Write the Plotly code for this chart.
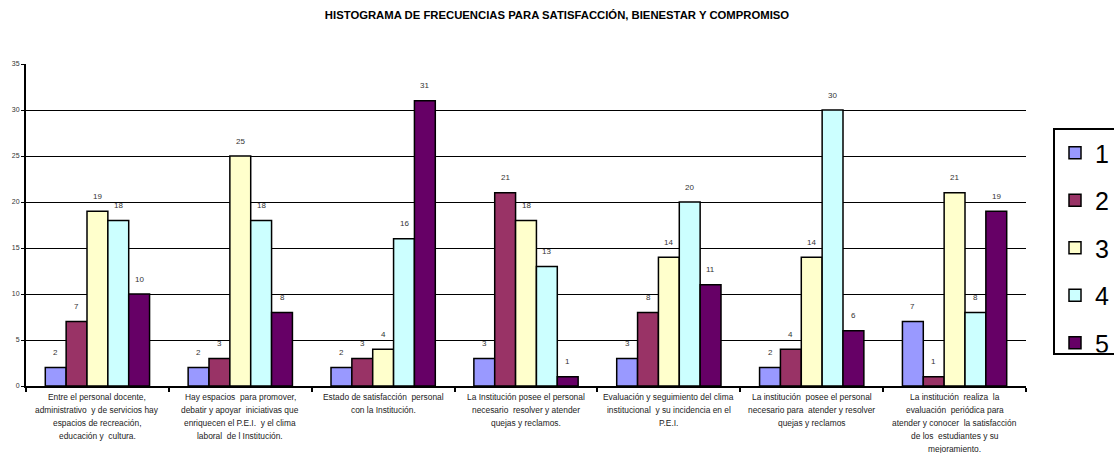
import plotly.graph_objects as go

categories = ["C1", "C2", "C3", "C4", "C5", "C6", "C7"]
category_labels = [
    ["Entre el personal docente,", "administrativo  y de servicios hay", "espacios de recreación,", "educación y  cultura."],
    ["Hay espacios  para promover,", "debatir y apoyar  iniciativas que", "enriquecen el P.E.I.  y el clima", "laboral  de l Institución."],
    ["Estado de satisfacción  personal", "con la Institución."],
    ["La Institución posee el personal", "necesario  resolver y atender", "quejas y reclamos."],
    ["Evaluación y seguimiento del clima", "institucional  y su incidencia en el", "P.E.I."],
    ["La institución  posee el personal", "necesario para  atender y resolver", "quejas y reclamos"],
    ["La institución  realiza  la", "evaluación  periódica para", "atender y conocer  la satisfacción", "de los  estudiantes y su", "mejoramiento."],
]
series_names = ["1", "2", "3", "4", "5"]
s1 = [2, 2, 2, 3, 3, 2, 7]
s2 = [7, 3, 3, 21, 8, 4, 1]
s3 = [19, 25, 4, 18, 14, 14, 21]
s4 = [18, 18, 16, 13, 20, 30, 8]
s5 = [10, 8, 31, 1, 11, 6, 19]
series_values = [s1, s2, s3, s4, s5]
colors = ["#9999FF", "#993366", "#FFFFCC", "#CCFFFF", "#660066"]
y_ticks = [0, 5, 10, 15, 20, 25, 30, 35]

BARGAP = 0.27
FONT = "Liberation Sans, Arial, sans-serif"

fig = go.Figure()
for name, vals, col in zip(series_names, series_values, colors):
    fig.add_trace(go.Bar(
        x=categories, y=vals, name=name, legendgroup=name,
        marker=dict(color=col, line=dict(color="black", width=1.5)),
    ))

annotations = []
n = len(series_values)
bw = (1 - BARGAP) / n
for si, vals in enumerate(series_values):
    for ci, v in enumerate(vals):
        annotations.append(dict(
            x=ci + (si - (n - 1) / 2) * bw, y=v, xref="x", yref="y",
            text=str(v), showarrow=False, yanchor="middle", yshift=15,
            font=dict(family=FONT, size=8, color="#333333"),
        ))
for ci, lines in enumerate(category_labels):
    for li, line in enumerate(lines):
        annotations.append(dict(
            x=ci, y=0, xref="x", yref="y", text=line, showarrow=False,
            yanchor="middle", yshift=-11 - 13 * li,
            font=dict(family=FONT, size=8.4, color="#222222"),
        ))

fig.update_layout(
    width=1114, height=453,
    margin=dict(l=24, r=88, t=64, b=67),
    paper_bgcolor="white", plot_bgcolor="white",
    barmode="group", bargap=BARGAP, bargroupgap=0,
    title=dict(
        text="<b>HISTOGRAMA DE FRECUENCIAS PARA SATISFACCIÓN, BIENESTAR Y COMPROMISO</b>",
        x=0.5, xref="container", xanchor="center",
        y=1 - 15 / 453, yref="container", yanchor="middle",
        font=dict(family=FONT, size=11.3, color="black"),
    ),
    font=dict(family=FONT),
    xaxis=dict(
        showticklabels=False, showgrid=False, zeroline=False,
        showline=True, linecolor="black", linewidth=2,
        ticks="outside", tickson="boundaries", ticklen=4, tickcolor="black", tickwidth=1.5,
    ),
    yaxis=dict(
        range=[0, 35], tickvals=y_ticks, ticktext=[str(t) for t in y_ticks],
        showgrid=True, gridcolor="black", gridwidth=1, zeroline=False,
        showline=True, linecolor="black", linewidth=2,
        ticks="outside", ticklen=3, tickcolor="black",
        tickfont=dict(family=FONT, size=7, color="#333333"),
    ),
    legend=dict(
        x=1053 / 1114, xref="container", xanchor="left",
        y=1 - 128 / 453, yref="container", yanchor="top",
        bordercolor="black", borderwidth=2, bgcolor="white",
        font=dict(family=FONT, size=25, color="black"),
        tracegroupgap=12, traceorder="grouped",
    ),
    annotations=annotations,
)

fig.write_html(
    "out.html",
    config={"displayModeBar": False},
    post_script="document.body.style.margin='0';document.body.style.overflow='hidden';",
)
